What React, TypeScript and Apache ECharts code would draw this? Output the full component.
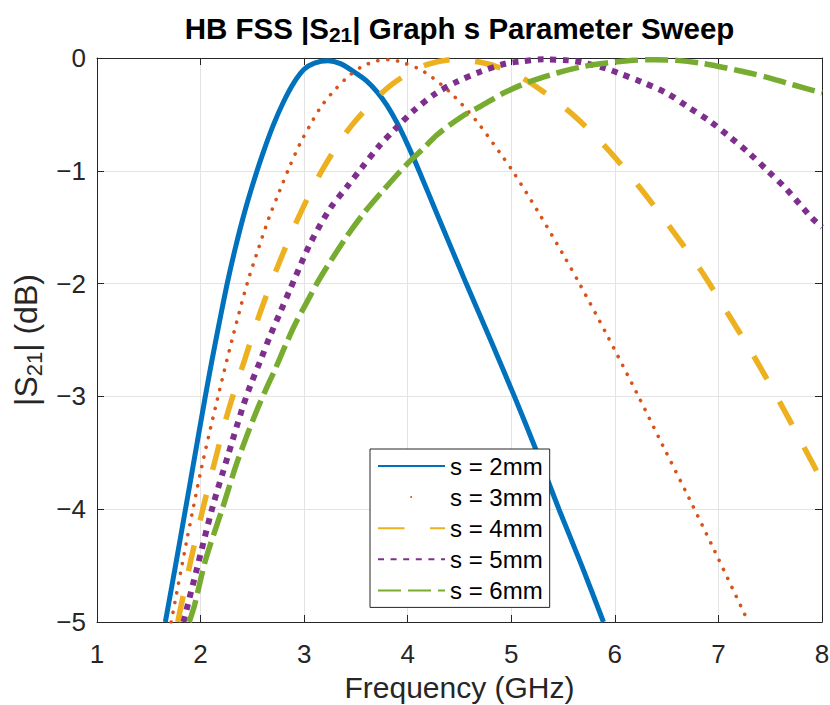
import React, { useEffect, useRef } from 'react';
import * as echarts from 'echarts';

// ---- data ----
const seriesNames = ['s = 2mm', 's = 3mm', 's = 4mm', 's = 5mm', 's = 6mm'];

const freq2 = [1.66, 1.76, 1.86, 1.95, 2.04, 2.11, 2.18, 2.257, 2.337, 2.424, 2.514, 2.6, 2.7, 2.8, 2.9, 3.0, 3.1, 3.23, 3.35, 3.478, 3.6, 3.704, 3.8, 3.9, 4.0, 4.1, 4.3, 4.565, 4.8, 5.03, 5.25, 5.46, 5.68, 5.89];
const s21_2 = [-5.0, -4.49, -3.97, -3.5, -3.03, -2.68, -2.35, -2.0, -1.68, -1.37, -1.09, -0.85, -0.6, -0.39, -0.22, -0.1, -0.045, -0.025, -0.05, -0.12, -0.2, -0.3, -0.42, -0.58, -0.77, -0.98, -1.42, -2.0, -2.5, -3.0, -3.5, -4.0, -4.5, -5.0];

const freq3 = [1.716, 1.862, 2.01, 2.161, 2.309, 2.456, 2.559, 2.659, 2.762, 2.861, 2.96, 3.061, 3.157, 3.27, 3.415, 3.56, 3.71, 3.82, 3.95, 4.153, 4.41, 4.662, 4.909, 5.012, 5.262, 5.513, 5.664, 5.915, 6.214, 6.462, 6.715, 6.966, 7.265, 7.29];
const s21_3 = [-5.0, -4.3, -3.63, -3.03, -2.48, -1.98, -1.69, -1.42, -1.18, -0.96, -0.76, -0.59, -0.44, -0.31, -0.172, -0.075, -0.025, -0.015, -0.04, -0.119, -0.305, -0.557, -0.865, -1.0, -1.368, -1.762, -2.01, -2.44, -2.975, -3.434, -3.9, -4.375, -4.953, -5.0];

const freq4 = [1.78, 1.804, 1.907, 2.019, 2.142, 2.27, 2.424, 2.579, 2.755, 2.952, 3.177, 3.446, 3.784, 4.0, 4.2, 4.44, 4.69, 4.9, 5.15, 5.558, 5.912, 6.233, 6.532, 6.822, 7.085, 7.342, 7.59, 7.824, 8.0];
const s21_4 = [-5.0, -4.89, -4.447, -4.01, -3.56, -3.12, -2.68, -2.247, -1.824, -1.4, -0.99, -0.613, -0.282, -0.14, -0.054, -0.015, -0.036, -0.09, -0.199, -0.474, -0.79, -1.14, -1.5, -1.871, -2.256, -2.644, -3.046, -3.446, -3.75];

const freq5 = [1.835, 1.961, 2.116, 2.257, 2.402, 2.482, 2.579, 2.668, 2.771, 2.868, 2.916, 3.061, 3.254, 3.415, 3.559, 3.72, 3.88, 4.057, 4.266, 4.475, 4.7, 4.94, 5.07, 5.31, 5.55, 5.68, 5.92, 6.034, 6.26, 6.5, 6.7, 6.913, 7.11, 7.297, 7.48, 7.657, 7.905, 8.0];
const s21_5 = [-5.0, -4.54, -3.98, -3.547, -3.11, -2.9, -2.68, -2.47, -2.25, -2.043, -1.94, -1.64, -1.33, -1.14, -0.97, -0.785, -0.628, -0.468, -0.317, -0.21, -0.122, -0.051, -0.033, -0.012, -0.021, -0.039, -0.095, -0.133, -0.213, -0.311, -0.43, -0.557, -0.7, -0.844, -1.004, -1.163, -1.421, -1.5];

const freq6 = [1.89, 1.942, 2.048, 2.219, 2.354, 2.53, 2.627, 2.723, 2.82, 2.916, 3.029, 3.141, 3.398, 3.575, 3.752, 3.993, 4.153, 4.283, 4.524, 4.7, 4.925, 5.182, 5.44, 5.696, 5.922, 6.18, 6.4, 6.597, 6.82, 7.08, 7.3, 7.497, 7.72, 7.947, 8.0];
const s21_6 = [-5.0, -4.85, -4.45, -3.97, -3.58, -3.153, -2.946, -2.753, -2.546, -2.354, -2.16, -1.97, -1.6, -1.377, -1.185, -0.94, -0.8, -0.681, -0.518, -0.43, -0.311, -0.208, -0.133, -0.075, -0.044, -0.021, -0.015, -0.021, -0.044, -0.089, -0.133, -0.178, -0.237, -0.296, -0.31];

const xMin = 1, xMax = 8, xStep = 1;
const yMin = -5, yMax = 0, yStep = 1;

const allFreq = [freq2, freq3, freq4, freq5, freq6];
const allS21 = [s21_2, s21_3, s21_4, s21_5, s21_6];

const FONT = '"Liberation Sans", Arial, Helvetica, sans-serif';
const AX = '#262626';

const lineStyles = [
  { color: '#0072BD', width: 5, type: 'solid' as any, cap: 'butt' },
  { color: '#D95319', width: 3.6, type: [0.1, 9.8] as any, cap: 'round' },
  { color: '#EDB120', width: 5.5, type: [26.5, 25.5] as any, cap: 'butt' },
  { color: '#7E2F8E', width: 6, type: [6, 6.6] as any, cap: 'butt' },
  { color: '#77AC30', width: 5.5, type: [23, 7] as any, cap: 'butt' },
];

const minusFmt = (v: number) => (v < 0 ? '\u2212' + Math.abs(v) : String(v));

export default function App() {
  const ref = useRef<HTMLDivElement>(null);
  useEffect(() => {
    document.body.style.margin = '0';
    const chart = echarts.init(ref.current!, null, { renderer: 'svg' });
    const series = seriesNames.map((name, i) => ({
      name,
      type: 'line',
      data: allFreq[i].map((f, j) => [f, allS21[i][j]]),
      showSymbol: false,
      symbol: 'none',
      smooth: 0.3,
      clip: true,
      lineStyle: lineStyles[i],
      itemStyle: { color: lineStyles[i].color },
      emphasis: { disabled: true },
      z: 2 + i,
    }));
    const baseAxis = {
      type: 'value',
      axisLine: { show: true, onZero: false, lineStyle: { color: AX, width: 1 } },
      axisTick: { show: true, inside: true, length: 7, lineStyle: { color: AX, width: 1 } },
    };
    chart.setOption({
      animation: false,
      backgroundColor: '#ffffff',
      title: {
        text: '{t|HB FSS |S}{s|21}{t|| Graph s Parameter Sweep}',
        left: 459.5,
        top: 13,
        textAlign: 'center',
        padding: 0,
        textStyle: {
          rich: {
            t: { fontFamily: FONT, fontWeight: 'bold', fontSize: 29.5, color: '#000', lineHeight: 32, verticalAlign: 'top' },
            s: { fontFamily: FONT, fontWeight: 'bold', fontSize: 21, color: '#000', lineHeight: 21, verticalAlign: 'bottom', padding: [20, 0, 0, 0] },
          },
        },
      },
      legend: {
        orient: 'vertical',
        left: 370,
        top: 449,
        data: seriesNames.map((n, i) => i === 1 ? { name: n, lineStyle: { type: [0.1, 200], dashOffset: 166.5 } } : { name: n }),
        itemWidth: 67,
        itemHeight: 20,
        itemGap: 7.1,
        padding: [5, 7, 5, 7],
        borderColor: AX,
        borderWidth: 1,
        borderRadius: 0,
        backgroundColor: '#ffffff',
        itemStyle: { opacity: 0 },
        selectedMode: false,
        textStyle: { fontFamily: FONT, fontSize: 24, color: '#000' },
      },
      grid: { left: 97, right: 8, top: 58, bottom: 83, show: false, containLabel: false, outerBoundsMode: 'none' },
      xAxis: [
        {
          ...baseAxis,
          min: xMin, max: xMax, interval: xStep,
          position: 'bottom',
          name: 'Frequency (GHz)',
          nameLocation: 'middle',
          nameGap: 47,
          nameTextStyle: { fontFamily: FONT, fontSize: 30, color: AX, lineHeight: 32 },
          axisLabel: { fontFamily: FONT, fontSize: 26, color: AX, margin: 19 },
          splitLine: { show: true, lineStyle: { color: '#e3e3e3', width: 1 } },
        },
        {
          ...baseAxis,
          min: xMin, max: xMax, interval: xStep,
          position: 'top',
          axisLabel: { show: false },
          splitLine: { show: false },
        },
      ],
      yAxis: [
        {
          ...baseAxis,
          min: yMin, max: yMax, interval: yStep,
          position: 'left',
          name: '{t||S}{s|21}{t|| (dB)}',
          nameLocation: 'middle',
          nameGap: 49,
          nameTextStyle: {
            rich: {
              t: { fontFamily: FONT, fontSize: 32, color: AX, lineHeight: 35, verticalAlign: 'top' },
              s: { fontFamily: FONT, fontSize: 22, color: AX, lineHeight: 22, verticalAlign: 'bottom', padding: [21, 0, 0, 0] },
            },
          },
          axisLabel: { fontFamily: FONT, fontSize: 26, color: AX, margin: 11, formatter: minusFmt },
          splitLine: { show: true, lineStyle: { color: '#e3e3e3', width: 1 } },
        },
        {
          ...baseAxis,
          min: yMin, max: yMax, interval: yStep,
          position: 'right',
          axisLabel: { show: false },
          splitLine: { show: false },
        },
      ],
      series,
    });
    return () => chart.dispose();
  }, []);
  return <div ref={ref} style={{ position: 'absolute', left: 0, top: 0, width: 830, height: 705 }} />;
}
